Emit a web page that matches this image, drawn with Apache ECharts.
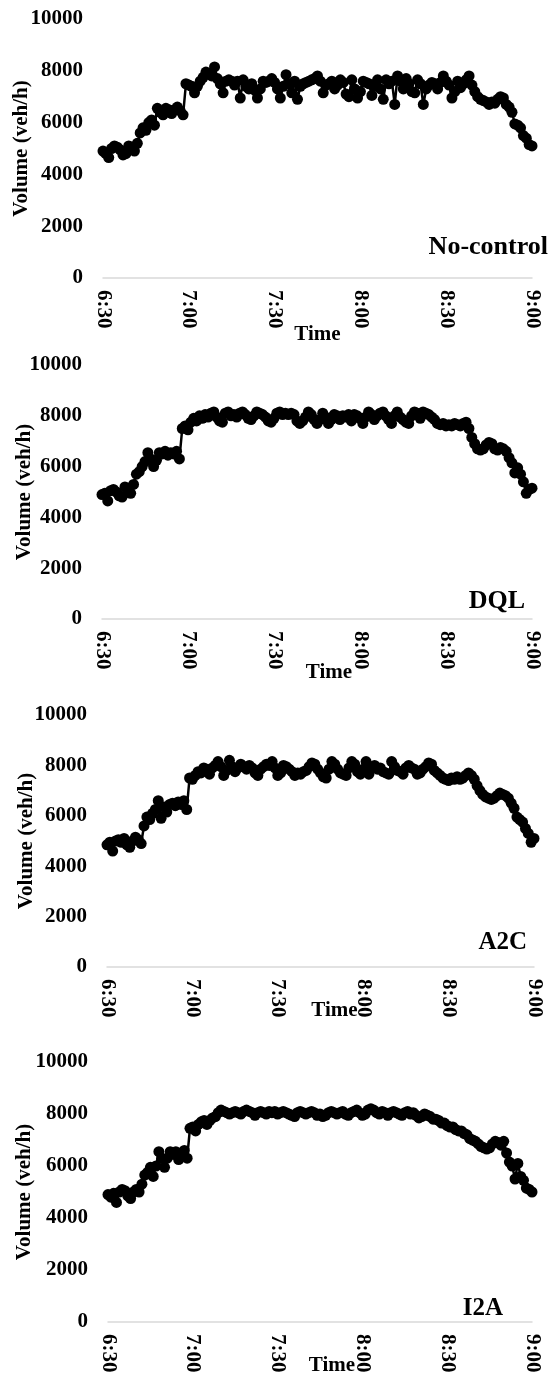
<!DOCTYPE html>
<html><head><meta charset="utf-8">
<script src="https://cdn.jsdelivr.net/npm/echarts@6/dist/echarts.min.js"></script>
<style>html,body{margin:0;padding:0;background:#fff}#c{width:549px;height:1385px}</style>
</head><body><div id="c"></div><script>
// x categories: one point per minute, 6:30 .. 9:00
const times = [];
for (let m = 0; m <= 150; m++) { const t = 390 + m; times.push(Math.floor(t / 60) + ':' + String(t % 60).padStart(2, '0')); }
const yTicks = [0, 2000, 4000, 6000, 8000, 10000];
const panelNames = ['No-control', 'DQL', 'A2C', 'I2A'];

const noControl = [
 4900,4800,4650,5000,5100,5050,4950,4750,4800,5100,
 5050,4900,5200,5600,5800,5700,6000,6100,5900,6550,
 6400,6300,6550,6500,6350,6500,6600,6450,6300,7500,
 7450,7400,7150,7400,7600,7750,7950,7900,7800,8150,
 7700,7500,7150,7600,7650,7600,7450,7600,6950,7650,
 7400,7300,7500,7250,6950,7300,7600,7550,7600,7700,
 7550,7300,6950,7400,7850,7500,7150,7600,6900,7400,
 7500,7550,7600,7650,7700,7800,7600,7150,7450,7500,
 7600,7300,7450,7650,7550,7100,7000,7650,7300,6950,
 7200,7600,7550,7500,7050,7400,7650,7300,6900,7650,
 7500,7600,6700,7800,7600,7300,7700,7500,7200,7150,
 7650,7500,6700,7300,7450,7550,7500,7300,7550,7800,
 7600,7450,6950,7200,7600,7350,7500,7650,7800,7450,
 7200,7000,6900,6850,6800,6700,6800,6750,6900,7000,
 6950,6700,6600,6400,5950,5900,5800,5500,5400,5150,5100];
const dql = [
 4900,4950,4650,5050,5100,5000,4850,4800,5200,5100,
 4950,5300,5700,5800,6000,6200,6550,6300,6000,6250,
 6550,6500,6600,6450,6550,6500,6600,6300,7500,7600,
 7450,7750,7900,7800,8000,7900,8050,7950,8100,8150,
 7950,7800,7750,8100,8150,8000,8050,7950,8100,8150,
 8050,7900,7850,8000,8150,8100,8050,7950,7800,7750,
 7900,8100,8150,8050,8100,8050,8100,8050,7800,7700,
 7800,7950,8150,8050,7850,7700,7850,8100,7950,7700,
 7850,8050,8000,7850,8000,7950,8050,7800,8050,8000,
 7900,7700,7950,8150,8050,7850,8000,8100,8150,8000,
 7850,7700,8000,8150,7950,7850,7750,7700,8000,8150,
 8100,7900,8150,8100,8050,7950,7850,7700,7650,7700,
 7600,7650,7600,7700,7650,7600,7700,7750,7500,7150,
 6900,6700,6650,6700,6850,6950,6900,6700,6650,6750,
 6700,6600,6350,6150,5750,5950,5700,5400,4950,5100,5150];
const a2c = [
 4850,4950,4600,5000,5050,4950,5100,4850,4750,5000,
 5150,5050,4900,5600,5950,5850,6100,6250,6600,5900,
 6350,6150,6450,6500,6400,6550,6450,6600,6250,7500,
 7450,7600,7750,7700,7900,7850,7650,7900,8000,8150,
 7950,7600,7800,8200,7950,7750,7900,8050,7950,7850,
 8000,7900,7700,7600,7850,7950,8050,8000,8150,7900,
 7600,7700,8000,7950,7850,7750,7600,7700,7650,7750,
 7800,7950,8100,8050,7850,7700,7550,7500,7850,8150,
 8050,7850,7700,7650,7600,7900,8150,8050,7750,7650,
 7850,8150,7650,7900,8000,7850,7900,7750,7700,7650,
 8150,7950,7800,7750,7650,7900,8000,7900,7850,7650,
 7700,7850,7950,8100,8050,7800,7700,7600,7500,7450,
 7400,7500,7450,7550,7450,7500,7600,7700,7600,7450,
 7200,7000,6850,6750,6700,6650,6700,6800,6900,6850,
 6800,6700,6500,6300,5950,5850,5750,5500,5300,4950,5100];
const i2a = [
 4900,4800,4950,4600,5000,5100,5050,4850,4750,5000,
 5100,5000,5300,5650,5750,5950,5600,6000,6550,6300,
 5950,6300,6550,6450,6550,6250,6450,6600,6300,7450,
 7500,7350,7600,7700,7750,7600,7750,7850,7900,8050,
 8150,8100,8050,8000,8050,8100,8050,8000,8100,8150,
 8100,8050,7950,8050,8100,8050,8000,8100,8050,8100,
 8000,8050,8100,8050,8000,7950,7900,8050,8100,8050,
 8000,8050,8100,8050,7950,8000,7900,7950,8050,8100,
 8050,8000,8050,8100,8000,7950,8050,8100,8150,8050,
 7950,8000,8150,8200,8150,8050,8000,8100,8050,7950,
 8050,8100,8050,8000,7950,8050,8100,8000,8050,7950,
 7850,7900,8000,7950,7900,7800,7800,7750,7650,7650,
 7550,7500,7500,7400,7350,7350,7250,7200,7050,7000,
 6950,6850,6750,6700,6650,6700,6850,6950,6900,6800,
 6950,6500,6150,6000,5500,6100,5600,5450,5150,5100,5000];
const seriesData = [noControl, dql, a2c, i2a];

const FONT = '"Liberation Serif", "Times New Roman", serif';
const layout = [
  {top: 19,   height: 259, left: 103, right: 17, nameGap: 71, timeGap: 46, timeShift: 0,  labSize: 26, lab: {right: 1,  top: 234}},
  {top: 365,  height: 254, left: 102, right: 17, nameGap: 67, timeGap: 43, timeShift: 24, labSize: 26, lab: {right: 24, top: 588}},
  {top: 715,  height: 252, left: 107, right: 15, nameGap: 70, timeGap: 33, timeShift: 28, labSize: 25, lab: {right: 22, top: 930}},
  {top: 1062, height: 260, left: 108, right: 17, nameGap: 73, timeGap: 33, timeShift: 24, labSize: 25, lab: {right: 46, top: 1296}}
];
const txt = {fontFamily: FONT, fontWeight: 'bold', color: '#000'};

const option = {
  animation: false,
  backgroundColor: '#fff',
  title: layout.map((l, i) => ({text: panelNames[i], right: l.lab.right, top: l.lab.top, padding: 0,
    textStyle: Object.assign({}, txt, {fontSize: l.labSize})})),
  grid: layout.map(l => ({top: l.top, height: l.height, left: l.left, right: l.right,
    containLabel: false, outerBoundsMode: 'none'})),
  xAxis: layout.map((l, i) => ({
    type: 'category', gridIndex: i, data: times, boundaryGap: false,
    axisLine: {lineStyle: {color: '#d9d9d9', width: 1.5}}, axisTick: {show: false},
    axisLabel: Object.assign({}, txt, {fontSize: 21, rotate: -90, interval: 29, margin: 12}),
    splitLine: {show: false},
    name: 'Time', nameLocation: 'middle', nameGap: l.timeGap, nameMoveOverlap: false,
    nameTextStyle: Object.assign({}, txt, {fontSize: 21, padding: [0, 0, 0, l.timeShift]})
  })),
  yAxis: layout.map((l, i) => ({
    type: 'value', gridIndex: i, min: yTicks[0], max: yTicks[yTicks.length - 1], interval: 2000,
    axisLine: {show: false}, axisTick: {show: false}, splitLine: {show: false},
    axisLabel: Object.assign({}, txt, {fontSize: 21, margin: 20, formatter: v => String(v)}),
    name: 'Volume (veh/h)', nameLocation: 'middle', nameGap: l.nameGap, nameMoveOverlap: false,
    nameTextStyle: Object.assign({}, txt, {fontSize: 21})
  })),
  series: seriesData.map((d, i) => ({
    type: 'line', xAxisIndex: i, yAxisIndex: i, data: d,
    symbol: 'circle', symbolSize: 11, showSymbol: true, showAllSymbol: true,
    lineStyle: {color: '#000', width: 2.5}, itemStyle: {color: '#000'},
    emphasis: {disabled: true}
  }))
};
echarts.init(document.getElementById('c'), null, {renderer: 'canvas'}).setOption(option);
</script></body></html>
